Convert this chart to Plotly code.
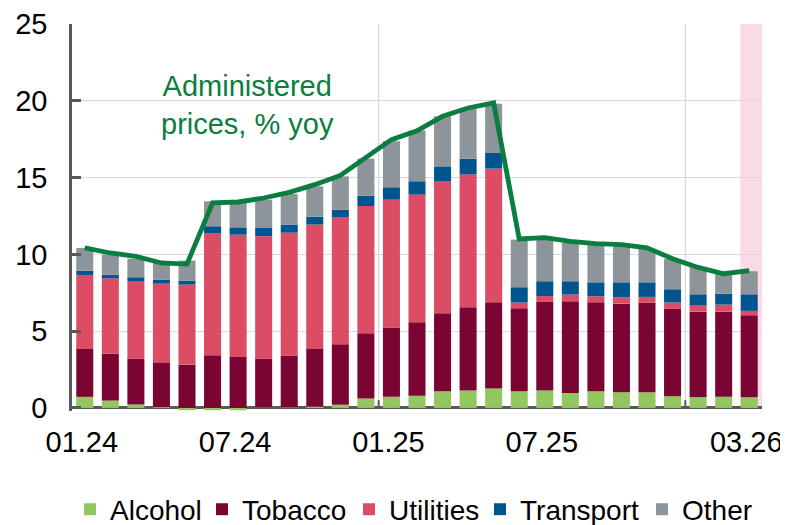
import plotly.graph_objects as go

months = ["01.24", "02.24", "03.24", "04.24", "05.24", "06.24", "07.24", "08.24", "09.24",
          "10.24", "11.24", "12.24", "01.25", "02.25", "03.25", "04.25", "05.25", "06.25",
          "07.25", "08.25", "09.25", "10.25", "11.25", "12.25", "01.26", "02.26", "03.26"]

alcohol = [0.72, 0.48, 0.22, 0.05, -0.15, -0.15, -0.15, 0.02, 0.03, 0.08, 0.20, 0.61, 0.72, 0.80,
           1.09, 1.13, 1.26, 1.09, 1.13, 0.98, 1.09, 1.02, 1.02, 0.76, 0.69, 0.72, 0.69]
tobacco = [3.12, 3.06, 2.99, 2.92, 2.82, 3.43, 3.32, 3.19, 3.38, 3.76, 3.94, 4.25, 4.51, 4.78,
           5.07, 5.42, 5.62, 5.40, 5.77, 5.96, 5.79, 5.77, 5.82, 5.71, 5.58, 5.55, 5.34]
utilities = [4.82, 4.90, 5.01, 5.12, 5.21, 7.96, 7.96, 7.97, 8.00, 8.10, 8.25, 8.29, 8.33, 8.31,
             8.58, 8.66, 8.70, 0.37, 0.39, 0.44, 0.39, 0.41, 0.39, 0.39, 0.39, 0.46, 0.29]
transport = [0.28, 0.24, 0.29, 0.27, 0.26, 0.44, 0.48, 0.54, 0.53, 0.52, 0.52, 0.67, 0.81, 0.87,
             0.99, 1.02, 1.02, 1.00, 0.96, 0.87, 0.91, 0.98, 0.95, 0.87, 0.74, 0.71, 1.08]
other = [1.48, 1.30, 1.21, 1.08, 1.30, 1.62, 1.59, 1.84, 1.99, 1.97, 2.17, 2.41, 3.00, 3.30,
         3.26, 3.26, 3.21, 3.10, 2.75, 2.49, 2.50, 2.35, 2.17, 1.97, 1.76, 1.35, 1.50]
administered = [10.42, 10.09, 9.87, 9.44, 9.37, 13.35, 13.41, 13.67, 14.04, 14.54, 15.14, 16.28,
                17.47, 18.05, 18.99, 19.53, 19.86, 11.00, 11.09, 10.85, 10.70, 10.63, 10.42,
                9.72, 9.15, 8.74, 8.94]

tick_labels = ["01.24", "07.24", "01.25", "07.25", "03.26"]
year_starts = ["01.25", "01.26"]
forecast_month = "03.26"
y_ticks = [0, 5, 10, 15, 20, 25]

series = [
    ("Alcohol", alcohol, "#92C65F"),
    ("Tobacco", tobacco, "#7B0532"),
    ("Utilities", utilities, "#DC4C64"),
    ("Transport", transport, "#00558F"),
    ("Other", other, "#8D959A"),
]
# left edge (px, figure coords) of each legend entry's text
legend_text_x = [107, 239, 386, 517, 679]

FONT = "Liberation Sans, Arial, sans-serif"
FS = 29
LEG_FS = 28
AXIS = "#595959"
GRID = "#D9D9D9"
LINE_GREEN = "#0A7D41"
W, H = 780, 517

fig = go.Figure()
legend_layouts = {}
for i, (name, vals, col) in enumerate(series):
    lname = "legend" if i == 0 else f"legend{i + 1}"
    fig.add_trace(go.Bar(x=months, y=vals, name=name, legend=lname,
                         marker=dict(color=col, line=dict(width=0))))
    legend_layouts[lname] = dict(
        orientation="h", xref="container", yref="container",
        x=(legend_text_x[i] - 45) / W, xanchor="left", y=0.03, yanchor="middle",
        font=dict(size=LEG_FS, family=FONT), bgcolor="rgba(0,0,0,0)", borderwidth=0,
    )

fig.add_trace(go.Scatter(x=months, y=administered, mode="lines", showlegend=False,
                         line=dict(color=LINE_GREEN, width=4.8)))

shapes = []
fi = months.index(forecast_month)
shapes.append(dict(type="rect", xref="x", yref="y", x0=fi - 0.35, x1=fi + 0.5, y0=0, y1=25,
                   fillcolor="#FADBE7", line=dict(width=0), layer="below"))
for ys in year_starts:
    xi = months.index(ys) - 0.5
    shapes.append(dict(type="line", xref="x", yref="y", x0=xi, x1=xi, y0=0, y1=25,
                       line=dict(color=GRID, width=1.3), layer="below"))
    shapes.append(dict(type="line", xref="x", yref="y", x0=xi, x1=xi, y0=0, y1=0.5,
                       line=dict(color=AXIS, width=2), layer="above"))

fig.update_layout(
    width=W, height=H,
    margin=dict(l=64, r=26, t=16, b=114, autoexpand=False),
    barmode="relative",
    bargap=0.334,
    paper_bgcolor="white", plot_bgcolor="white",
    font=dict(family=FONT, size=FS, color="black"),
    shapes=shapes,
    showlegend=True,
    annotations=[dict(x=6.35, y=19.75, xref="x", yref="y", text="Administered<br>prices, % yoy",
                      showarrow=False, font=dict(size=FS, color=LINE_GREEN), align="center")],
    **legend_layouts,
)

fig.update_xaxes(
    type="category", range=[-0.5, len(months) - 0.5],
    tickmode="array", tickvals=tick_labels, ticktext=tick_labels,
    showgrid=False, showline=False, ticks="", ticklabelstandoff=11, ticklabelshift=-3,
    tickfont=dict(size=FS),
)
fig.update_yaxes(
    range=[-0.2, 25], tickmode="array", tickvals=y_ticks,
    showgrid=True, gridcolor=GRID, gridwidth=1.3,
    zeroline=True, zerolinecolor=AXIS, zerolinewidth=2.5,
    showline=True, linecolor=AXIS, linewidth=2.5,
    ticks="inside", ticklen=9, tickwidth=2.5, tickcolor=AXIS,
    ticklabelstandoff=16, tickfont=dict(size=FS),
)

fig.write_html("out.html")
